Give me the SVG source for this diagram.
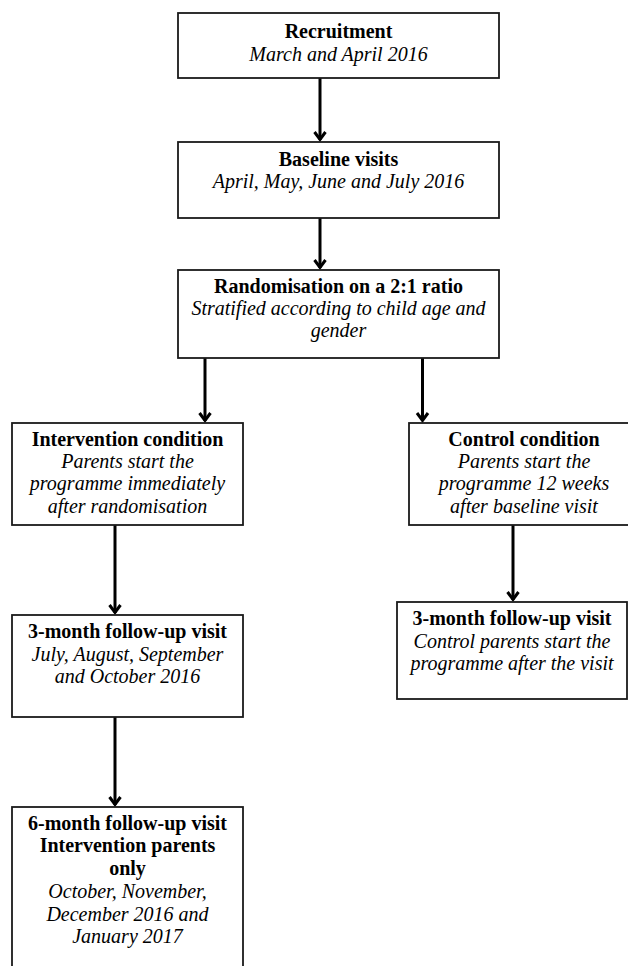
<svg xmlns="http://www.w3.org/2000/svg" width="628" height="966" viewBox="0 0 628 966">
<style>
.box{fill:#fff;stroke:#1a1a1a;stroke-width:1.8}
text{font-family:'Liberation Serif','Times New Roman',Times,serif;font-size:20px;fill:#000;text-anchor:middle}
.b{font-weight:bold}
.i{font-style:italic}
.ln{stroke:#000;stroke-width:3;fill:none}
.ah{stroke:#000;stroke-width:3;fill:none;stroke-linejoin:miter}
</style>
<rect width="628" height="966" fill="#fff"/>
<g id="connectors">
<line class="ln" x1="320" y1="78" x2="320" y2="140"/><polyline class="ah" points="314.5,132 320,139.5 325.5,132"/>
<line class="ln" x1="320" y1="218" x2="320" y2="268"/><polyline class="ah" points="314.5,260 320,267.5 325.5,260"/>
<line class="ln" x1="205" y1="358" x2="205" y2="421"/><polyline class="ah" points="199.5,413 205,420.5 210.5,413"/>
<line class="ln" x1="422.5" y1="358" x2="422.5" y2="421"/><polyline class="ah" points="417,413 422.5,420.5 428,413"/>
<line class="ln" x1="115" y1="525" x2="115" y2="613"/><polyline class="ah" points="109.5,605 115,612.5 120.5,605"/>
<line class="ln" x1="115" y1="717" x2="115" y2="805"/><polyline class="ah" points="109.5,797 115,804.5 120.5,797"/>
<line class="ln" x1="513" y1="525" x2="513" y2="600"/><polyline class="ah" points="507.5,592 513,599.5 518.5,592"/>
</g>
<g id="recruitment">
<rect class="box" x="178" y="13" width="321" height="65"/>
<text class="b" x="338.5" y="38" font-family="Liberation Serif">Recruitment</text>
<text class="i" x="338.5" y="61" font-family="Liberation Serif">March and April 2016</text>
</g>
<g id="baseline">
<rect class="box" x="178" y="142" width="321" height="76"/>
<text class="b" x="338.5" y="166" font-family="Liberation Serif">Baseline visits</text>
<text class="i" x="338.5" y="188" font-family="Liberation Serif">April, May, June and July 2016</text>
</g>
<g id="randomisation">
<rect class="box" x="178" y="270" width="321" height="88"/>
<text class="b" x="338.5" y="293" font-family="Liberation Serif">Randomisation on a 2:1 ratio</text>
<text class="i" x="338.5" y="315" font-family="Liberation Serif">Stratified according to child age and</text>
<text class="i" x="338.5" y="337" font-family="Liberation Serif">gender</text>
</g>
<g id="intervention">
<rect class="box" x="12" y="423" width="231" height="102"/>
<text class="b" x="127.5" y="446" font-family="Liberation Serif">Intervention condition</text>
<text class="i" x="127.5" y="468" font-family="Liberation Serif">Parents start the</text>
<text class="i" x="127.5" y="490" font-family="Liberation Serif">programme immediately</text>
<text class="i" x="127.5" y="513" font-family="Liberation Serif">after randomisation</text>
</g>
<g id="control">
<rect class="box" x="409" y="423" width="230" height="102"/>
<text class="b" x="524" y="446" font-family="Liberation Serif">Control condition</text>
<text class="i" x="524" y="468" font-family="Liberation Serif">Parents start the</text>
<text class="i" x="524" y="490" font-family="Liberation Serif">programme 12 weeks</text>
<text class="i" x="524" y="513" font-family="Liberation Serif">after baseline visit</text>
</g>
<g id="followup3-intervention">
<rect class="box" x="12" y="615" width="231" height="102"/>
<text class="b" x="127.5" y="638" font-family="Liberation Serif">3-month follow-up visit</text>
<text class="i" x="127.5" y="661" font-family="Liberation Serif">July, August, September</text>
<text class="i" x="127.5" y="683" font-family="Liberation Serif">and October 2016</text>
</g>
<g id="followup3-control">
<rect class="box" x="397" y="602" width="230" height="97"/>
<text class="b" x="512" y="625" font-family="Liberation Serif">3-month follow-up visit</text>
<text class="i" x="512" y="648" font-family="Liberation Serif">Control parents start the</text>
<text class="i" x="512" y="670" font-family="Liberation Serif">programme after the visit</text>
</g>
<g id="followup6">
<rect class="box" x="12" y="807" width="231" height="175"/>
<text class="b" x="127.5" y="830" font-family="Liberation Serif">6-month follow-up visit</text>
<text class="b" x="127.5" y="852" font-family="Liberation Serif">Intervention parents</text>
<text class="b" x="127.5" y="875" font-family="Liberation Serif">only</text>
<text class="i" x="127.5" y="898" font-family="Liberation Serif">October, November,</text>
<text class="i" x="127.5" y="921" font-family="Liberation Serif">December 2016 and</text>
<text class="i" x="127.5" y="943" font-family="Liberation Serif">January 2017</text>
</g>
</svg>
